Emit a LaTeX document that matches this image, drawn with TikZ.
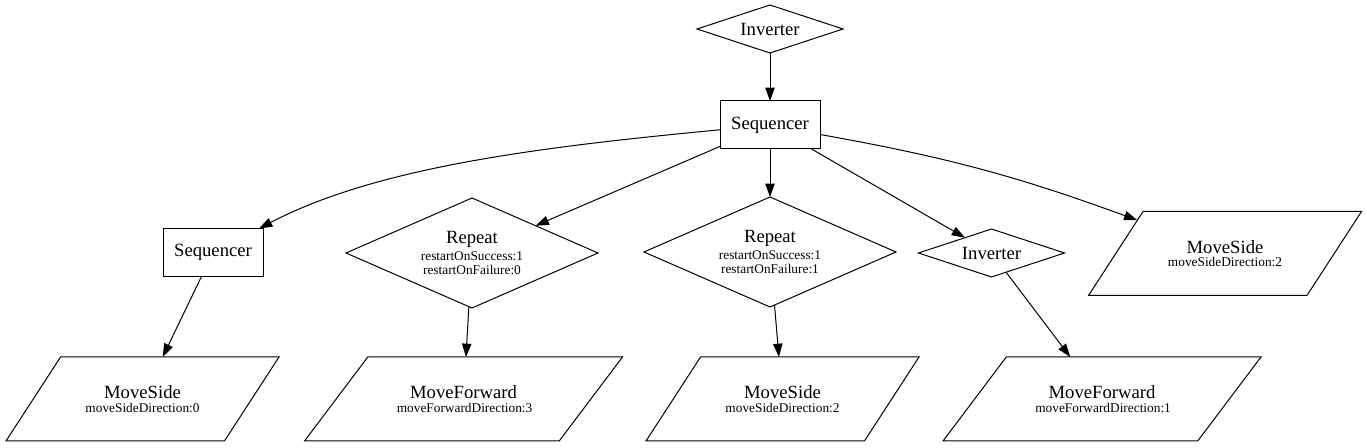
\documentclass[tikz,border=0pt]{standalone}
\usepackage{fontspec}
\setmainfont{Liberation Serif}
\usetikzlibrary{shapes.geometric,arrows.meta}
\newcommand\smtxt[1]{{\fontsize{10}{10.5}\selectfont #1}}
\newcommand\ptext[2]{\parbox[c][63pt][c]{100pt}{\centering #1\\[-5.75pt]\smtxt{#2}}}
\begin{document}
\begin{tikzpicture}[x=0.75pt,y=-0.75pt,
  every node/.style={font=\rmfamily\fontsize{14}{16}\selectfont, inner sep=0pt, outer sep=0pt, align=center},
  seqbox/.style={draw, line width=0.75pt, rectangle, minimum width=75pt, minimum height=36pt},
  invdiam/.style={draw, line width=0.75pt, diamond, shape aspect=3.04, minimum width=109.5pt, minimum height=36pt},
  repdiam/.style={draw, line width=0.75pt, diamond, shape aspect=2.29, minimum width=189pt, minimum height=82.5pt},
  paraside/.style={draw, line width=0.75pt, trapezium, trapezium left angle=57, trapezium right angle=123,
     trapezium stretches body, minimum width=204.75pt, minimum height=63pt},
  parafwd/.style={draw, line width=0.75pt, trapezium, trapezium left angle=53, trapezium right angle=127,
     trapezium stretches body, minimum width=238.5pt, minimum height=63pt},
  conn/.style={-{Triangle[length=10pt,width=7pt]}, line width=0.75pt}
]
\useasboundingbox (0,0) rectangle (1367,448);

\node[invdiam] (inv0) at (770,29) {Inverter};
\node[seqbox] (seq0) at (770,125) {Sequencer};

\node[seqbox] (seq1) at (213,252.5) {Sequencer};
\node[repdiam] (rep1) at (472,253) {Repeat\\[-3.25pt]\smtxt{restartOnSuccess:1}\\[-5pt]\smtxt{restartOnFailure:0}};
\node[repdiam] (rep2) at (770,252) {Repeat\\[-3.25pt]\smtxt{restartOnSuccess:1}\\[-5pt]\smtxt{restartOnFailure:1}};
\node[invdiam] (inv1) at (991.5,253) {Inverter};
\node[paraside] (ms5) at (1225,253.5) {\ptext{MoveSide}{moveSideDirection:2}};

\node[paraside] (ms0) at (142.5,399) {\ptext{MoveSide}{moveSideDirection:0}};
\node[parafwd] (mf3) at (463.5,399) {\ptext{MoveForward}{moveForwardDirection:3}};
\node[paraside] (ms2) at (782.5,399) {\ptext{MoveSide}{moveSideDirection:2}};
\node[parafwd] (mf1) at (1102,399) {\ptext{MoveForward}{moveForwardDirection:1}};

\draw[conn] (inv0) -- (seq0);
\draw[conn] (seq0) .. controls (540,147) and (377.5,166.75) .. (seq1);
\draw[conn] (seq0) -- (rep1);
\draw[conn] (seq0) -- (rep2);
\draw[conn] (seq0) -- (inv1);
\draw[conn] (seq0) to[bend left=5] (ms5);
\draw[conn] (seq1) -- (ms0);
\draw[conn] (rep1) -- (mf3);
\draw[conn] (rep2) -- (ms2);
\draw[conn] (inv1) -- (mf1);
\end{tikzpicture}
\end{document}
